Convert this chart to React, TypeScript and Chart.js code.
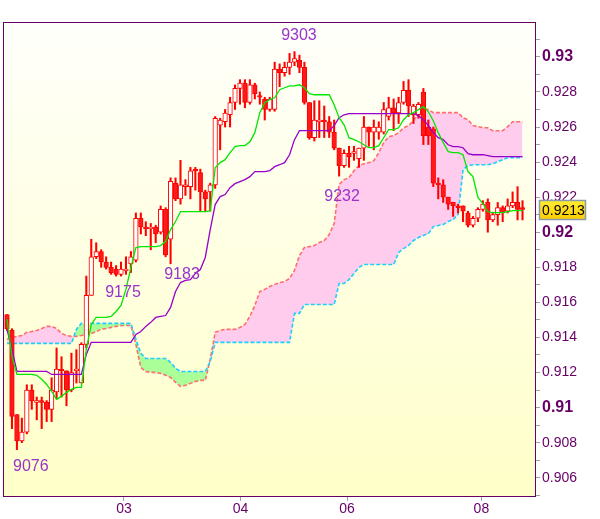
import React, { useEffect, useRef } from 'react';
import { Chart, registerables } from 'chart.js';

Chart.register(...registerables);

// ---- Data (candle index 0..104) ----
const openP = [
  0.9153, 0.9144, 0.9096, 0.9081, 0.9086, 0.9110, 0.9103, 0.9104, 0.9103, 0.9099,
  0.9109, 0.9122, 0.9121, 0.9110, 0.9121, 0.9114, 0.9136, 0.9164, 0.9186, 0.9189,
  0.9183, 0.9180, 0.9179, 0.9176, 0.9178, 0.9182, 0.9184, 0.9208, 0.9203, 0.9202,
  0.9203, 0.9200, 0.9213, 0.9196, 0.9228, 0.9219, 0.9226, 0.9226, 0.9236, 0.9234,
  0.9223, 0.9223, 0.9227, 0.9261, 0.9263, 0.9267, 0.9274, 0.9282, 0.9285, 0.9274,
  0.9284, 0.9278, 0.9276, 0.9270, 0.9270, 0.9293, 0.9291, 0.9294, 0.9297, 0.9298,
  0.9294, 0.9274, 0.9254, 0.9263, 0.9264, 0.9263, 0.9257, 0.9248, 0.9238, 0.9245,
  0.9245, 0.9242, 0.9248, 0.9260, 0.9257, 0.9257, 0.9257, 0.9266, 0.9271, 0.9268,
  0.9274, 0.9281, 0.9267, 0.9267, 0.9280, 0.9260, 0.9259, 0.9228, 0.9227, 0.9220,
  0.9217, 0.9215, 0.9215, 0.9211, 0.9204, 0.9208, 0.9213, 0.9217, 0.9207, 0.9210,
  0.9214, 0.9212, 0.9215, 0.9217, 0.9214,
];
const highP = [
  0.9153, 0.9145, 0.9096, 0.9094, 0.9113, 0.9113, 0.9106, 0.9106, 0.9104, 0.9117,
  0.9134, 0.9129, 0.9121, 0.9131, 0.9133, 0.9137, 0.9175, 0.9196, 0.9194, 0.9190,
  0.9186, 0.9183, 0.9181, 0.9183, 0.9186, 0.9189, 0.9211, 0.9211, 0.9206, 0.9205,
  0.9204, 0.9215, 0.9214, 0.9231, 0.9231, 0.9241, 0.9230, 0.9237, 0.9237, 0.9236,
  0.9224, 0.9228, 0.9266, 0.9265, 0.9270, 0.9277, 0.9284, 0.9287, 0.9287, 0.9287,
  0.9285, 0.9280, 0.9277, 0.9277, 0.9297, 0.9296, 0.9297, 0.9302, 0.9303, 0.9301,
  0.9297, 0.9274, 0.9275, 0.9275, 0.9272, 0.9266, 0.9264, 0.9248, 0.9247, 0.9249,
  0.9249, 0.9248, 0.9266, 0.9260, 0.9264, 0.9263, 0.9274, 0.9277, 0.9276, 0.9277,
  0.9286, 0.9287, 0.9273, 0.9274, 0.9282, 0.9264, 0.9260, 0.9231, 0.9230, 0.9220,
  0.9217, 0.9216, 0.9215, 0.9212, 0.9209, 0.9214, 0.9218, 0.9219, 0.9211, 0.9217,
  0.9215, 0.9219, 0.9223, 0.9226, 0.9218,
];
const lowP = [
  0.9144, 0.9088, 0.9076, 0.9080, 0.9085, 0.9099, 0.9093, 0.9088, 0.9092, 0.9092,
  0.9105, 0.9106, 0.9101, 0.9109, 0.9114, 0.9114, 0.9134, 0.9164, 0.9185, 0.9180,
  0.9179, 0.9176, 0.9175, 0.9175, 0.9176, 0.9177, 0.9183, 0.9199, 0.9198, 0.9190,
  0.9194, 0.9199, 0.9186, 0.9182, 0.9218, 0.9216, 0.9221, 0.9219, 0.9224, 0.9212,
  0.9212, 0.9212, 0.9225, 0.9247, 0.9260, 0.9260, 0.9270, 0.9273, 0.9271, 0.9273,
  0.9276, 0.9273, 0.9264, 0.9269, 0.9269, 0.9283, 0.9289, 0.9290, 0.9295, 0.9291,
  0.9273, 0.9253, 0.9252, 0.9254, 0.9254, 0.9254, 0.9247, 0.9232, 0.9237, 0.9237,
  0.9241, 0.9237, 0.9241, 0.9249, 0.9247, 0.9253, 0.9256, 0.9264, 0.9258, 0.9262,
  0.9273, 0.9266, 0.9262, 0.9265, 0.9250, 0.9250, 0.9226, 0.9219, 0.9217, 0.9213,
  0.9209, 0.9211, 0.9206, 0.9203, 0.9203, 0.9206, 0.9212, 0.9200, 0.9206, 0.9204,
  0.9206, 0.9211, 0.9214, 0.9207, 0.9207,
];
const closeP = [
  0.9145, 0.9095, 0.9081, 0.9086, 0.9110, 0.9104, 0.9104, 0.9103, 0.9099, 0.9110,
  0.9122, 0.9121, 0.9110, 0.9120, 0.9122, 0.9136, 0.9164, 0.9186, 0.9189, 0.9183,
  0.9180, 0.9177, 0.9176, 0.9179, 0.9179, 0.9186, 0.9208, 0.9203, 0.9202, 0.9203,
  0.9199, 0.9213, 0.9187, 0.9229, 0.9219, 0.9227, 0.9227, 0.9235, 0.9235, 0.9223,
  0.9219, 0.9227, 0.9265, 0.9264, 0.9268, 0.9274, 0.9282, 0.9285, 0.9274, 0.9284,
  0.9279, 0.9277, 0.9270, 0.9276, 0.9293, 0.9291, 0.9294, 0.9297, 0.9299, 0.9294,
  0.9274, 0.9254, 0.9264, 0.9264, 0.9263, 0.9257, 0.9248, 0.9238, 0.9245, 0.9243,
  0.9246, 0.9248, 0.9260, 0.9257, 0.9260, 0.9260, 0.9270, 0.9271, 0.9268, 0.9274,
  0.9281, 0.9272, 0.9272, 0.9273, 0.9255, 0.9255, 0.9228, 0.9227, 0.9220, 0.9216,
  0.9215, 0.9214, 0.9212, 0.9204, 0.9208, 0.9213, 0.9216, 0.9207, 0.9210, 0.9214,
  0.9211, 0.9215, 0.9217, 0.9213, 0.9213,
];
const tenkan = [
  0.91503, 0.91292, 0.91189, 0.91189, 0.91189, 0.91189, 0.91184, 0.91161, 0.91132, 0.91093,
  0.91047, 0.91064, 0.91087, 0.91104, 0.91115, 0.91115, 0.91332, 0.91474, 0.91514, 0.91514,
  0.91514, 0.91520, 0.91548, 0.91582, 0.91674, 0.91799, 0.91913, 0.91918, 0.91918, 0.91918,
  0.91918, 0.91924, 0.91947, 0.92015, 0.92061, 0.92118, 0.92118, 0.92118, 0.92118, 0.92118,
  0.92118, 0.92123, 0.92368, 0.92397, 0.92414, 0.92454, 0.92488, 0.92494, 0.92494, 0.92516,
  0.92568, 0.92682, 0.92739, 0.92756, 0.92767, 0.92813, 0.92824, 0.92835, 0.92835, 0.92841,
  0.92824, 0.92790, 0.92784, 0.92784, 0.92784, 0.92784, 0.92727, 0.92653, 0.92613, 0.92539,
  0.92528, 0.92516, 0.92499, 0.92482, 0.92482, 0.92494, 0.92539, 0.92585, 0.92585, 0.92596,
  0.92642, 0.92670, 0.92682, 0.92699, 0.92716, 0.92687, 0.92636, 0.92568, 0.92511, 0.92460,
  0.92454, 0.92454, 0.92442, 0.92346, 0.92317, 0.92198, 0.92163, 0.92118, 0.92112, 0.92112,
  0.92112, 0.92118, 0.92123, 0.92123, 0.92123,
];
const kijun = [
  0.91446, 0.91332, 0.91206, 0.91206, 0.91206, 0.91206, 0.91206, 0.91206, 0.91206, 0.91189,
  0.91189, 0.91189, 0.91189, 0.91189, 0.91189, 0.91189, 0.91303, 0.91372, 0.91372, 0.91372,
  0.91372, 0.91372, 0.91372, 0.91372, 0.91372, 0.91372, 0.91417, 0.91434, 0.91463, 0.91486,
  0.91514, 0.91520, 0.91525, 0.91571, 0.91662, 0.91713, 0.91725, 0.91730, 0.91765, 0.91787,
  0.91856, 0.92015, 0.92158, 0.92203, 0.92215, 0.92254, 0.92277, 0.92289, 0.92300, 0.92317,
  0.92346, 0.92346, 0.92346, 0.92351, 0.92374, 0.92385, 0.92397, 0.92442, 0.92528, 0.92579,
  0.92579, 0.92579, 0.92579, 0.92579, 0.92579, 0.92579, 0.92608, 0.92653, 0.92670, 0.92676,
  0.92676, 0.92676, 0.92676, 0.92676, 0.92676, 0.92676, 0.92676, 0.92676, 0.92676, 0.92676,
  0.92676, 0.92676, 0.92676, 0.92665, 0.92642, 0.92608, 0.92568, 0.92539, 0.92528, 0.92499,
  0.92488, 0.92488, 0.92482, 0.92448, 0.92442, 0.92442, 0.92442, 0.92437, 0.92431, 0.92431,
  0.92431, 0.92431, 0.92431, 0.92431, 0.92431,
];
const spanA = [
  0.91389, 0.91400, 0.91406, 0.91411, 0.91429, 0.91434, 0.91440, 0.91451, 0.91463, 0.91463,
  0.91451, 0.91423, 0.91411, 0.91406, 0.91406, 0.91411, 0.91417, 0.91423, 0.91434, 0.91446,
  0.91451, 0.91457, 0.91463, 0.91468, 0.91468, 0.91468, 0.91360, 0.91229, 0.91206, 0.91201,
  0.91201, 0.91195, 0.91184, 0.91172, 0.91144, 0.91121, 0.91127, 0.91138, 0.91149, 0.91155,
  0.91155, 0.91275, 0.91429, 0.91440, 0.91446, 0.91446, 0.91446, 0.91457, 0.91474, 0.91520,
  0.91582, 0.91662, 0.91674, 0.91691, 0.91702, 0.91713, 0.91719, 0.91736, 0.91782, 0.91867,
  0.91913, 0.91918, 0.91924, 0.91941, 0.91953, 0.91987, 0.92049, 0.92272, 0.92300, 0.92311,
  0.92351, 0.92380, 0.92391, 0.92397, 0.92408, 0.92454, 0.92511, 0.92545, 0.92551, 0.92568,
  0.92596, 0.92608, 0.92636, 0.92682, 0.92710, 0.92699, 0.92682, 0.92682, 0.92682, 0.92682,
  0.92682, 0.92682, 0.92653, 0.92642, 0.92608, 0.92602, 0.92596, 0.92596, 0.92579, 0.92579,
  0.92579, 0.92602, 0.92630, 0.92630, 0.92630,
];
const spanB = [
  0.91366, 0.91366, 0.91366, 0.91366, 0.91366, 0.91366, 0.91366, 0.91366, 0.91366, 0.91366,
  0.91366, 0.91366, 0.91366, 0.91366, 0.91446, 0.91480, 0.91480, 0.91480, 0.91480, 0.91480,
  0.91480, 0.91480, 0.91480, 0.91480, 0.91480, 0.91480, 0.91389, 0.91309, 0.91280, 0.91280,
  0.91280, 0.91280, 0.91280, 0.91258, 0.91224, 0.91206, 0.91206, 0.91206, 0.91206, 0.91206,
  0.91206, 0.91263, 0.91372, 0.91372, 0.91372, 0.91372, 0.91372, 0.91372, 0.91372, 0.91372,
  0.91372, 0.91372, 0.91372, 0.91372, 0.91372, 0.91372, 0.91372, 0.91372, 0.91537, 0.91537,
  0.91588, 0.91588, 0.91588, 0.91588, 0.91588, 0.91588, 0.91588, 0.91708, 0.91708, 0.91730,
  0.91765, 0.91799, 0.91816, 0.91816, 0.91816, 0.91816, 0.91816, 0.91816, 0.91816, 0.91884,
  0.91907, 0.91924, 0.91953, 0.91970, 0.91981, 0.91992, 0.92032, 0.92038, 0.92044, 0.92061,
  0.92072, 0.92101, 0.92357, 0.92380, 0.92385, 0.92385, 0.92385, 0.92385, 0.92391, 0.92403,
  0.92414, 0.92425, 0.92425, 0.92425, 0.92425,
];
const xTickPos = [23.6, 47.1, 68.6, 95.7];
const xTickLabels = ['03', '04', '06', '08'];
const extremaText = ['9303', '9232', '9183', '9175', '9076'];
const extremaIdx = [58.9, 67.6, 35.3, 23.4, 4.8];
const extremaPrice = [0.93119, 0.92206, 0.91756, 0.91653, 0.90666];
const lastPrice = 0.9213;

const X_MIN = -0.807;
const X_MAX = 106.72;
const Y_MIN = 0.9049;
const Y_MAX = 0.93199;
const FONT = '"Liberation Sans", Arial, Helvetica, sans-serif';

export default function App() {
  const ref = useRef<HTMLCanvasElement | null>(null);

  useEffect(() => {
    const canvas = ref.current;
    if (!canvas) return;
    const idx = openP.map((_, i) => i);
    const line = (arr: number[]) => arr.map((v, i) => ({ x: i, y: v }));
    const bodyData = idx.map((i) => ({ x: i, y: [openP[i], closeP[i]] }));
    const wickData = idx.map((i) => ({ x: i, y: [lowP[i], highP[i]] }));
    const bodyColors = idx.map((i) => (closeP[i] >= openP[i] ? '#ffffff' : '#ff1a1a'));

    const decor = {
      id: 'decor',
      beforeDraw(chart: any) {
        const { ctx, chartArea: a, width, height } = chart;
        ctx.save();
        ctx.fillStyle = '#ffffff';
        ctx.fillRect(0, 0, width, height);
        const g = ctx.createLinearGradient(0, a.top, 0, a.bottom);
        g.addColorStop(0, '#fffffb');
        g.addColorStop(1, '#ffffc8');
        ctx.fillStyle = g;
        ctx.fillRect(a.left, a.top, a.right - a.left, a.bottom - a.top);
        ctx.restore();
      },
      afterDraw(chart: any) {
        const { ctx, chartArea: a, scales } = chart;
        const xs = scales.x;
        const ys = scales.y;
        ctx.save();
        ctx.strokeStyle = '#660066';
        ctx.lineWidth = 1;
        ctx.strokeRect(a.left + 0.5, a.top + 0.5, a.right - a.left - 1, a.bottom - a.top - 1);

        ctx.font = `16px ${FONT}`;
        ctx.fillStyle = '#9933cc';
        ctx.textAlign = 'center';
        ctx.textBaseline = 'middle';
        extremaText.forEach((t, k) => {
          ctx.fillText(t, xs.getPixelForValue(extremaIdx[k]), ys.getPixelForValue(extremaPrice[k]));
        });

        const yc = ys.getPixelForValue(lastPrice);
        const bx = 539;
        const bw = 47;
        const bh = 20;
        const by = Math.round(yc) - 9;
        const g = ctx.createLinearGradient(0, by, 0, by + bh);
        g.addColorStop(0, '#ffee33');
        g.addColorStop(1, '#ffcc00');
        ctx.fillStyle = g;
        ctx.fillRect(bx, by, bw, bh);
        ctx.strokeStyle = '#8a9aae';
        ctx.lineWidth = 1.5;
        ctx.strokeRect(bx + 0.5, by + 0.5, bw - 1, bh - 1);
        ctx.fillStyle = '#000000';
        ctx.font = `14px ${FONT}`;
        ctx.textAlign = 'left';
        ctx.fillText(lastPrice.toFixed(4), bx + 3, by + bh / 2 + 1);
        ctx.restore();
      },
    };

    const chart = new Chart(canvas, {
      type: 'bar',
      data: {
        datasets: [
          {
            type: 'line',
            data: line(spanA),
            borderColor: '#ff6f6f',
            borderWidth: 1.6,
            borderDash: [4, 2],
            pointRadius: 0,
            tension: 0,
            fill: { target: '+1', above: '#ffccee', below: '#aaff99' },
            order: 10,
          } as any,
          {
            type: 'line',
            data: line(spanB),
            borderColor: '#22ccff',
            borderWidth: 1.6,
            borderDash: [4, 2],
            pointRadius: 0,
            tension: 0,
            fill: false,
            order: 9,
          } as any,
          {
            type: 'bar',
            data: wickData,
            backgroundColor: '#ff0000',
            borderWidth: 0,
            barThickness: 1.4,
            grouped: false,
            order: 5,
          } as any,
          {
            type: 'bar',
            data: bodyData,
            backgroundColor: bodyColors,
            borderColor: '#ff0000',
            borderWidth: 1,
            borderSkipped: false,
            barThickness: 4.6,
            minBarLength: 1,
            grouped: false,
            order: 4,
          } as any,
          {
            type: 'line',
            data: line(kijun),
            borderColor: '#9900cc',
            borderWidth: 1.3,
            pointRadius: 0,
            tension: 0,
            fill: false,
            order: 2,
          } as any,
          {
            type: 'line',
            data: line(tenkan),
            borderColor: '#00e600',
            borderWidth: 1.3,
            pointRadius: 0,
            tension: 0,
            fill: false,
            order: 1,
          } as any,
        ],
      },
      options: {
        responsive: false,
        animation: false,
        devicePixelRatio: 1,
        layout: { padding: { left: 3, top: 22, right: 0, bottom: 0 } },
        plugins: { legend: { display: false }, tooltip: { enabled: false } },
        scales: {
          x: {
            type: 'linear',
            min: X_MIN,
            max: X_MAX,
            offset: false,
            grid: { drawOnChartArea: false, drawTicks: true, tickLength: 4, color: '#a0a0a0', offset: false },
            border: { display: false },
            afterBuildTicks: (s: any) => {
              s.ticks = xTickPos.map((v) => ({ value: v }));
            },
            afterFit: (s: any) => {
              s.height = 22;
            },
            ticks: {
              autoSkip: false,
              maxRotation: 0,
              padding: 0,
              color: '#660066',
              font: { family: FONT, size: 14 },
              callback: (_v: any, i: number) => xTickLabels[i] ?? '',
            },
          },
          y: {
            type: 'linear',
            position: 'right',
            min: Y_MIN,
            max: Y_MAX,
            grid: { drawOnChartArea: false, drawTicks: true, tickLength: 4, color: '#a0a0a0' },
            border: { display: false },
            afterBuildTicks: (s: any) => {
              const t: any[] = [];
              for (let m = 905; m <= 931; m++) t.push({ value: m / 1000 });
              s.ticks = t;
            },
            afterFit: (s: any) => {
              s.width = 64;
            },
            ticks: {
              autoSkip: false,
              padding: 2,
              color: '#660066',
              font: (c: any) => {
                const m = Math.round((c.tick ? c.tick.value : 0) * 1000);
                return m % 10 === 0
                  ? { family: FONT, size: 16, weight: 'bold' }
                  : { family: FONT, size: 14 };
              },
              callback: (v: any) => {
                const m = Math.round(Number(v) * 1000);
                if (m % 2 !== 0 || m >= 932) return '';
                return String(m / 1000);
              },
            },
          },
        },
      } as any,
      plugins: [decor],
    });

    return () => chart.destroy();
  }, []);

  return (
    <div style={{ position: 'fixed', left: 0, top: 0, width: 600, height: 519, background: '#ffffff' }}>
      <canvas ref={ref} width={600} height={519} style={{ display: 'block' }} />
    </div>
  );
}
